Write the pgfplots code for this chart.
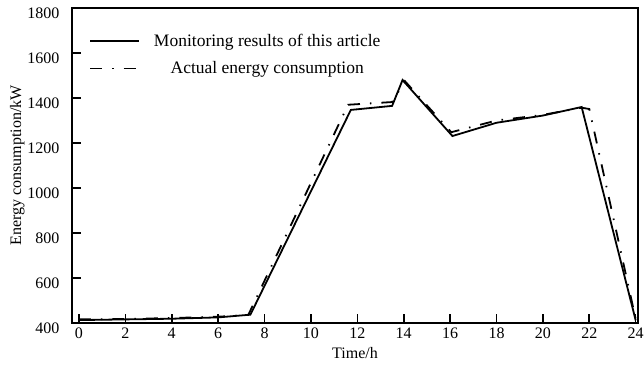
\documentclass[border=0pt]{standalone}
\usepackage{pgfplots}
\pgfplotsset{compat=1.18}
\usepackage{fontspec}
\setmainfont{Liberation Serif}
\begin{document}
\begin{tikzpicture}
\begin{axis}[
  at={(0pt,0pt)}, anchor=south west,
  scale only axis,
  width=566pt, height=315pt,
  xmin=-0.3, xmax=24.1,
  ymin=400, ymax=1800,
  xtick={0,2,...,24},
  ytick={400,600,...,1800},
  tick align=inside,
  xtick pos=bottom, ytick pos=left,
  major tick length=9pt,
  axis line style={line width=1.6pt},
  every tick/.style={line width=1.6pt,black},
  /pgf/number format/assume math mode=true,
  /pgf/number format/1000 sep={},
  tick label style={font=\fontsize{16}{19}\selectfont},
  xticklabel style={yshift=-1pt},
  yticklabel style={xshift=-9pt, yshift=-5pt},
  label style={font=\fontsize{16}{19}\selectfont},
  xlabel={Time/h},
  xlabel style={yshift=-2pt},
  ylabel={Energy consumption/kW},
  ylabel style={yshift=-4pt},
  legend cell align=center,
  legend image code/.code={\draw[#1, line width=1.8pt] (0pt,0pt) -- (49pt,0pt);},
  legend style={at={(0.03,0.925)}, anchor=north west, draw=none, fill=none,
    font=\fontsize{17.5}{21}\selectfont, row sep=10pt, column sep=12pt, inner sep=0pt},
  clip=false,
]
\addplot[black, line width=1.8pt] coordinates {
 (0,413) (2,416) (4,419) (6,425) (7.39,437) (11.72,1347) (13.5,1365) (13.95,1480)
 (16.1,1231) (18,1290) (20,1322) (21.67,1360) (24,412)
};
\addlegendentry{Monitoring results of this article}
\addplot[black, line width=1.8pt, dash pattern=on 12pt off 10pt on 1.5pt off 10pt] coordinates {
 (0,416) (2,418) (4,422) (6,428) (7.3,436) (11.6,1370) (13.5,1382) (14.05,1475)
 (16.05,1248) (18,1300) (20,1325) (21.67,1357) (22.0,1351) (24,418)
};
\addlegendentry{Actual energy consumption}
\end{axis}
\pgfresetboundingbox
\path[use as bounding box] (-72pt,-50pt) rectangle (572pt,323pt);
\end{tikzpicture}
\end{document}
